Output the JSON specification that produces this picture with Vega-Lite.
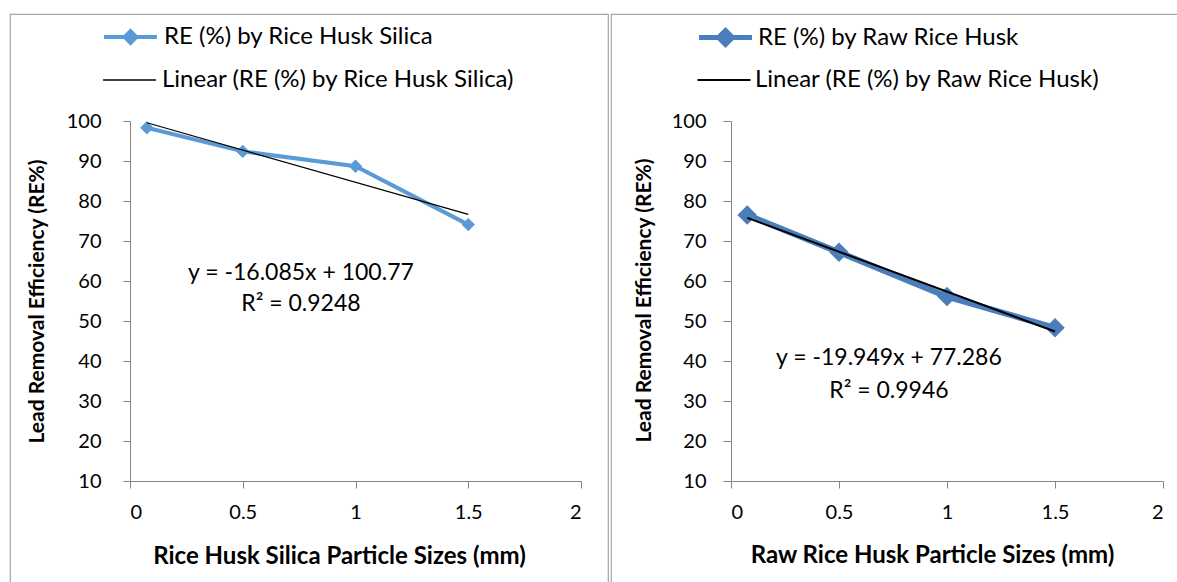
{
  "$schema": "https://vega.github.io/schema/vega-lite/v6.json",
  "padding": {"left": 9, "top": 13, "right": 0, "bottom": 0},
  "spacing": 3,
  "bounds": "flush",
  "config": {
    "font": "Lato",
    "view": {"stroke": "#a6a6a6", "strokeWidth": 1.2},
    "axis": {
      "grid": false,
      "domainColor": "#868686",
      "tickColor": "#868686",
      "tickSize": 7,
      "labelFont": "Lato",
      "labelFontSize": 20,
      "labelColor": "#000000",
      "titleFont": "Lato",
      "titleFontSize": 21,
      "titleFontWeight": "bold",
      "titleColor": "#000000"
    },
    "legend": {
      "orient": "none",
      "padding": 0,
      "symbolSize": 1764,
      "rowPadding": 0,
      "labelFont": "Lato",
      "labelFontSize": 24,
      "labelColor": "#000000",
      "labelLimit": 0
    }
  },
  "datasets": {
    "silica": [
      {"size": 0.075, "re": 98.3, "series": "RE (%) by Rice Husk Silica"},
      {"size": 0.5, "re": 92.4, "series": "RE (%) by Rice Husk Silica"},
      {"size": 1, "re": 88.7, "series": "RE (%) by Rice Husk Silica"},
      {"size": 1.5, "re": 74.1, "series": "RE (%) by Rice Husk Silica"}
    ],
    "silicaTrend": [
      {"size": 0.075, "re": 99.56, "series": "Linear (RE (%) by Rice Husk Silica)"},
      {"size": 1.5, "re": 76.64, "series": "Linear (RE (%) by Rice Husk Silica)"}
    ],
    "silicaEq": [
      {"size": 0.758, "re": 62, "label": "y = -16.085x + 100.77"},
      {"size": 0.758, "re": 54.25, "label": "R² = 0.9248"}
    ],
    "raw": [
      {"size": 0.075, "re": 76.5, "series": "RE (%) by Raw Rice Husk"},
      {"size": 0.5, "re": 67.2, "series": "RE (%) by Raw Rice Husk"},
      {"size": 1, "re": 56.1, "series": "RE (%) by Raw Rice Husk"},
      {"size": 1.5, "re": 48.3, "series": "RE (%) by Raw Rice Husk"}
    ],
    "rawTrend": [
      {"size": 0.075, "re": 75.79, "series": "Linear (RE (%) by Raw Rice Husk)"},
      {"size": 1.5, "re": 47.36, "series": "Linear (RE (%) by Raw Rice Husk)"}
    ],
    "rawEq": [
      {"size": 0.731, "re": 40.75, "label": "y = -19.949x + 77.286"},
      {"size": 0.731, "re": 32.5, "label": "R² = 0.9946"}
    ]
  },
  "hconcat": [
    {
      "width": 598,
      "height": 580,
      "encoding": {
        "x": {
          "field": "size", "type": "quantitative",
          "scale": {"domain": [0, 2], "range": [120, 571], "nice": false, "zero": false},
          "axis": {"values": [0, 0.5, 1, 1.5, 2], "format": "~g", "offset": -113, "labelPadding": 14, "title": "Rice Husk Silica Particle Sizes (mm)", "titleFontSize": 24, "titleX": 329, "titleY": 63}
        },
        "y": {
          "field": "re", "type": "quantitative",
          "scale": {"domain": [10, 100], "range": [467, 107], "nice": false, "zero": false},
          "axis": {"values": [10, 20, 30, 40, 50, 60, 70, 80, 90, 100], "offset": -120, "labelPadding": 22, "title": "Lead Removal Efficiency (RE%)", "titleX": -83, "titleY": 287}
        }
      },
      "layer": [
        {
          "data": {"name": "silica"},
          "mark": {"type": "line", "strokeWidth": 4, "point": {"shape": "diamond", "size": 180, "filled": true}},
          "encoding": {
            "color": {
              "field": "series", "type": "nominal",
              "scale": {"range": ["#5b9bd5"]},
              "legend": {"title": null, "legendX": 97.5, "legendY": 0, "labelOffset": 10.5, "symbolType": "M-1.26,0L1.26,0M0,-0.28L0.28,0L0,0.28L-0.28,0Z", "symbolStrokeWidth": 4}
            }
          }
        },
        {
          "data": {"name": "silicaTrend"},
          "mark": {"type": "line", "strokeWidth": 1.2},
          "encoding": {
            "stroke": {
              "field": "series", "type": "nominal",
              "scale": {"range": ["#000000"]},
              "legend": {"title": null, "legendX": 97.5, "legendY": 44, "labelOffset": 10.5, "symbolType": "M-1.26,0L1.26,0", "symbolStrokeWidth": 1.3}
            }
          }
        },
        {
          "data": {"name": "silicaEq"},
          "mark": {"type": "text", "fontSize": 23, "font": "Lato", "color": "#000000"},
          "encoding": {"text": {"field": "label"}}
        }
      ]
    },
    {
      "width": 600,
      "height": 580,
      "encoding": {
        "x": {
          "field": "size", "type": "quantitative",
          "scale": {"domain": [0, 2], "range": [120, 552], "nice": false, "zero": false},
          "axis": {"values": [0, 0.5, 1, 1.5, 2], "format": "~g", "offset": -113, "labelPadding": 14, "title": "Raw Rice Husk Particle Sizes (mm)", "titleFontSize": 24, "titleX": 321, "titleY": 62}
        },
        "y": {
          "field": "re", "type": "quantitative",
          "scale": {"domain": [10, 100], "range": [467, 107], "nice": false, "zero": false},
          "axis": {"values": [10, 20, 30, 40, 50, 60, 70, 80, 90, 100], "offset": -120, "tickSize": 8, "labelPadding": 17, "title": "Lead Removal Efficiency (RE%)", "titleX": -77, "titleY": 286}
        }
      },
      "layer": [
        {
          "data": {"name": "raw"},
          "mark": {"type": "line", "strokeWidth": 6, "point": {"shape": "diamond", "size": 380, "filled": true}},
          "encoding": {
            "color": {
              "field": "series", "type": "nominal",
              "scale": {"range": ["#4a7ebb"]},
              "legend": {"title": null, "legendX": 91, "legendY": 0, "labelOffset": 9, "symbolType": "M-1.26,0L1.26,0M0,-0.33L0.33,0L0,0.33L-0.33,0Z", "symbolStrokeWidth": 5}
            }
          }
        },
        {
          "data": {"name": "rawTrend"},
          "mark": {"type": "line", "strokeWidth": 2},
          "encoding": {
            "stroke": {
              "field": "series", "type": "nominal",
              "scale": {"range": ["#000000"]},
              "legend": {"title": null, "legendX": 91, "legendY": 44, "labelOffset": 9, "symbolType": "M-1.26,0L1.26,0", "symbolStrokeWidth": 2}
            }
          }
        },
        {
          "data": {"name": "rawEq"},
          "mark": {"type": "text", "fontSize": 23, "font": "Lato", "color": "#000000"},
          "encoding": {"text": {"field": "label"}}
        }
      ]
    }
  ],
  "resolve": {
    "scale": {"x": "independent", "y": "independent", "color": "independent", "stroke": "independent"},
    "legend": {"color": "independent", "stroke": "independent"}
  }
}
